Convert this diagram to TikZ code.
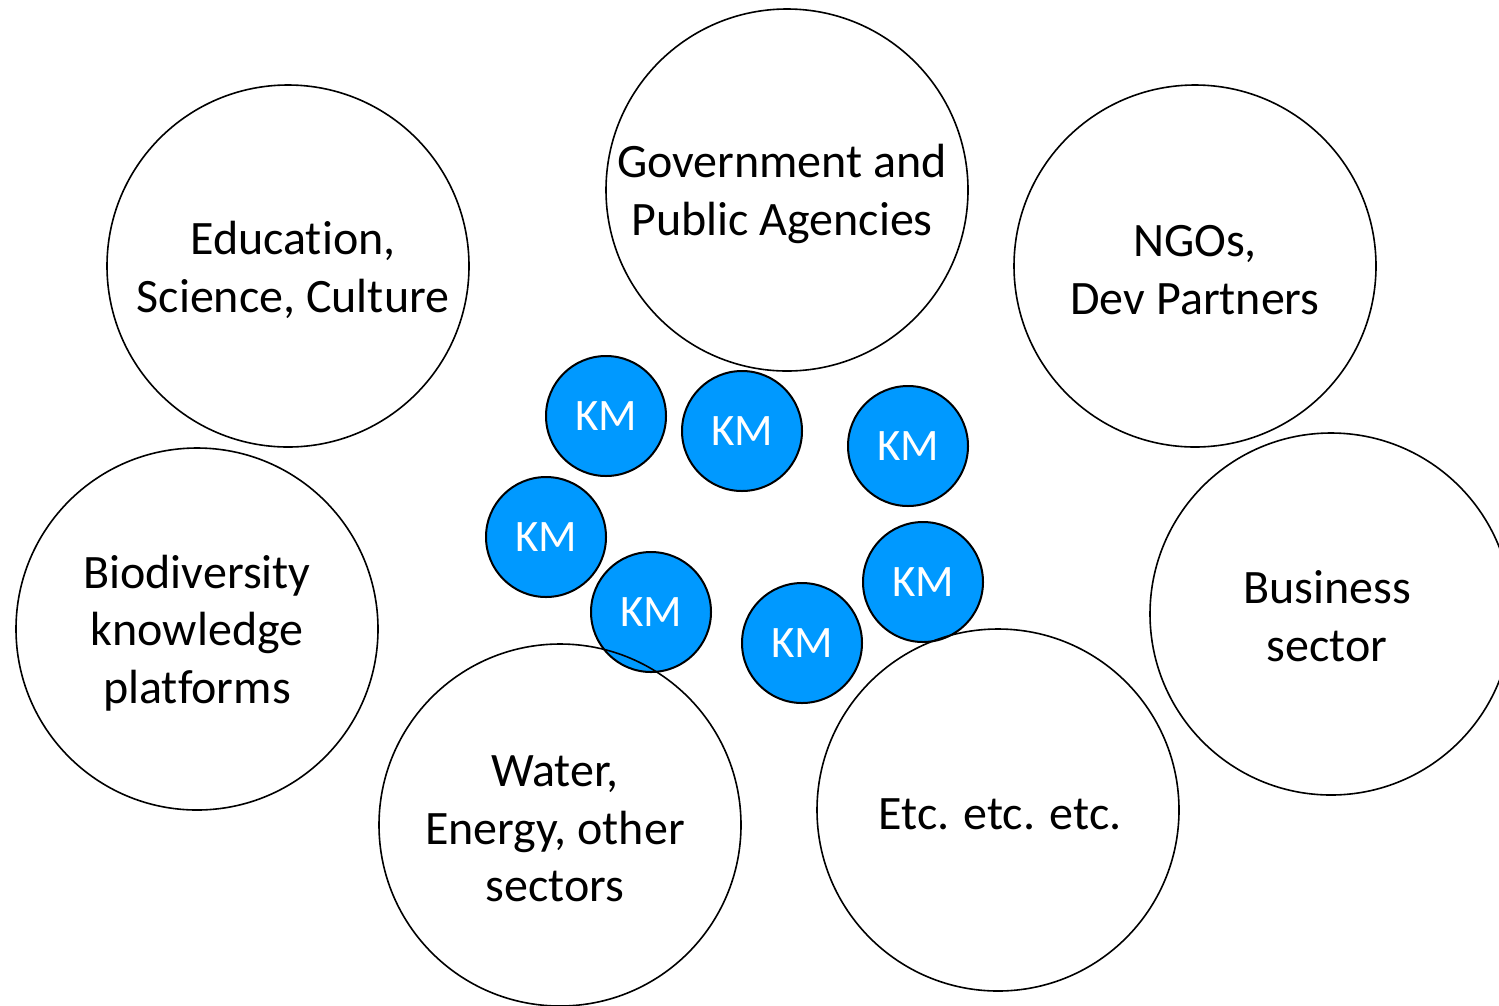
\documentclass[tikz,border=0pt]{standalone}
\usepackage{fontspec}
\setmainfont[Ligatures={NoCommon,NoContextual}]{Carlito}
\definecolor{kmblue}{RGB}{0,153,255}
\begin{document}
\begin{tikzpicture}[x=1pt,y=-1pt,
  group/.style={circle,draw=black,line width=1.6pt,minimum size=362pt,inner sep=0pt},
  grouptext/.style={align=center,inner sep=0pt,font=\fontsize{48}{57.5}\selectfont},
  km/.style={circle,draw=black,line width=2pt,fill=kmblue,minimum size=120pt,inner sep=0pt,
    text=white,font=\fontsize{45}{54}\selectfont}]
\useasboundingbox (0,0) rectangle (1499,1005);
\node[km] (k1) at (606,416) {KM};
\node[km] (k2) at (742,431) {KM};
\node[km] (k3) at (908,446) {KM};
\node[km] (k4) at (546,537) {KM};
\node[km] (k5) at (651,612) {KM};
\node[km] (k6) at (923,582) {KM};
\node[km] (k7) at (802,643) {KM};
\node[group] (gov) at (787,190) {};
\node[group] (edu) at (288,266) {};
\node[group] (ngo) at (1195,266) {};
\node[group] (bio) at (197,629) {};
\node[group] (bus) at (1331,614) {};
\node[group] (wat) at (560,825) {};
\node[group] (etc) at (998,810) {};
\node[grouptext] (govt) at ([xshift=-5pt,yshift=-4pt]gov.center) {Government and\\Public Agencies};
\node[grouptext] (edut) at ([xshift=5pt,yshift=-4pt]edu.center) {Education,\\Science, Culture};
\node[grouptext] (ngot) at ([yshift=-4pt]ngo.center) {NGOs,\\Dev Partners};
\node[grouptext] (biot) at ([yshift=-4pt]bio.center) {Biodiversity\\knowledge\\platforms};
\node[grouptext] (bust) at ([xshift=-4pt,yshift=-2pt]bus.center) {Business\\sector};
\node[grouptext] (watt) at ([xshift=-5pt,yshift=-4pt]wat.center) {Water,\\Energy, other\\sectors};
\node[grouptext] (etct) at ([xshift=2pt,yshift=-4pt]etc.center) {Etc. etc. etc.};
\end{tikzpicture}
\end{document}
